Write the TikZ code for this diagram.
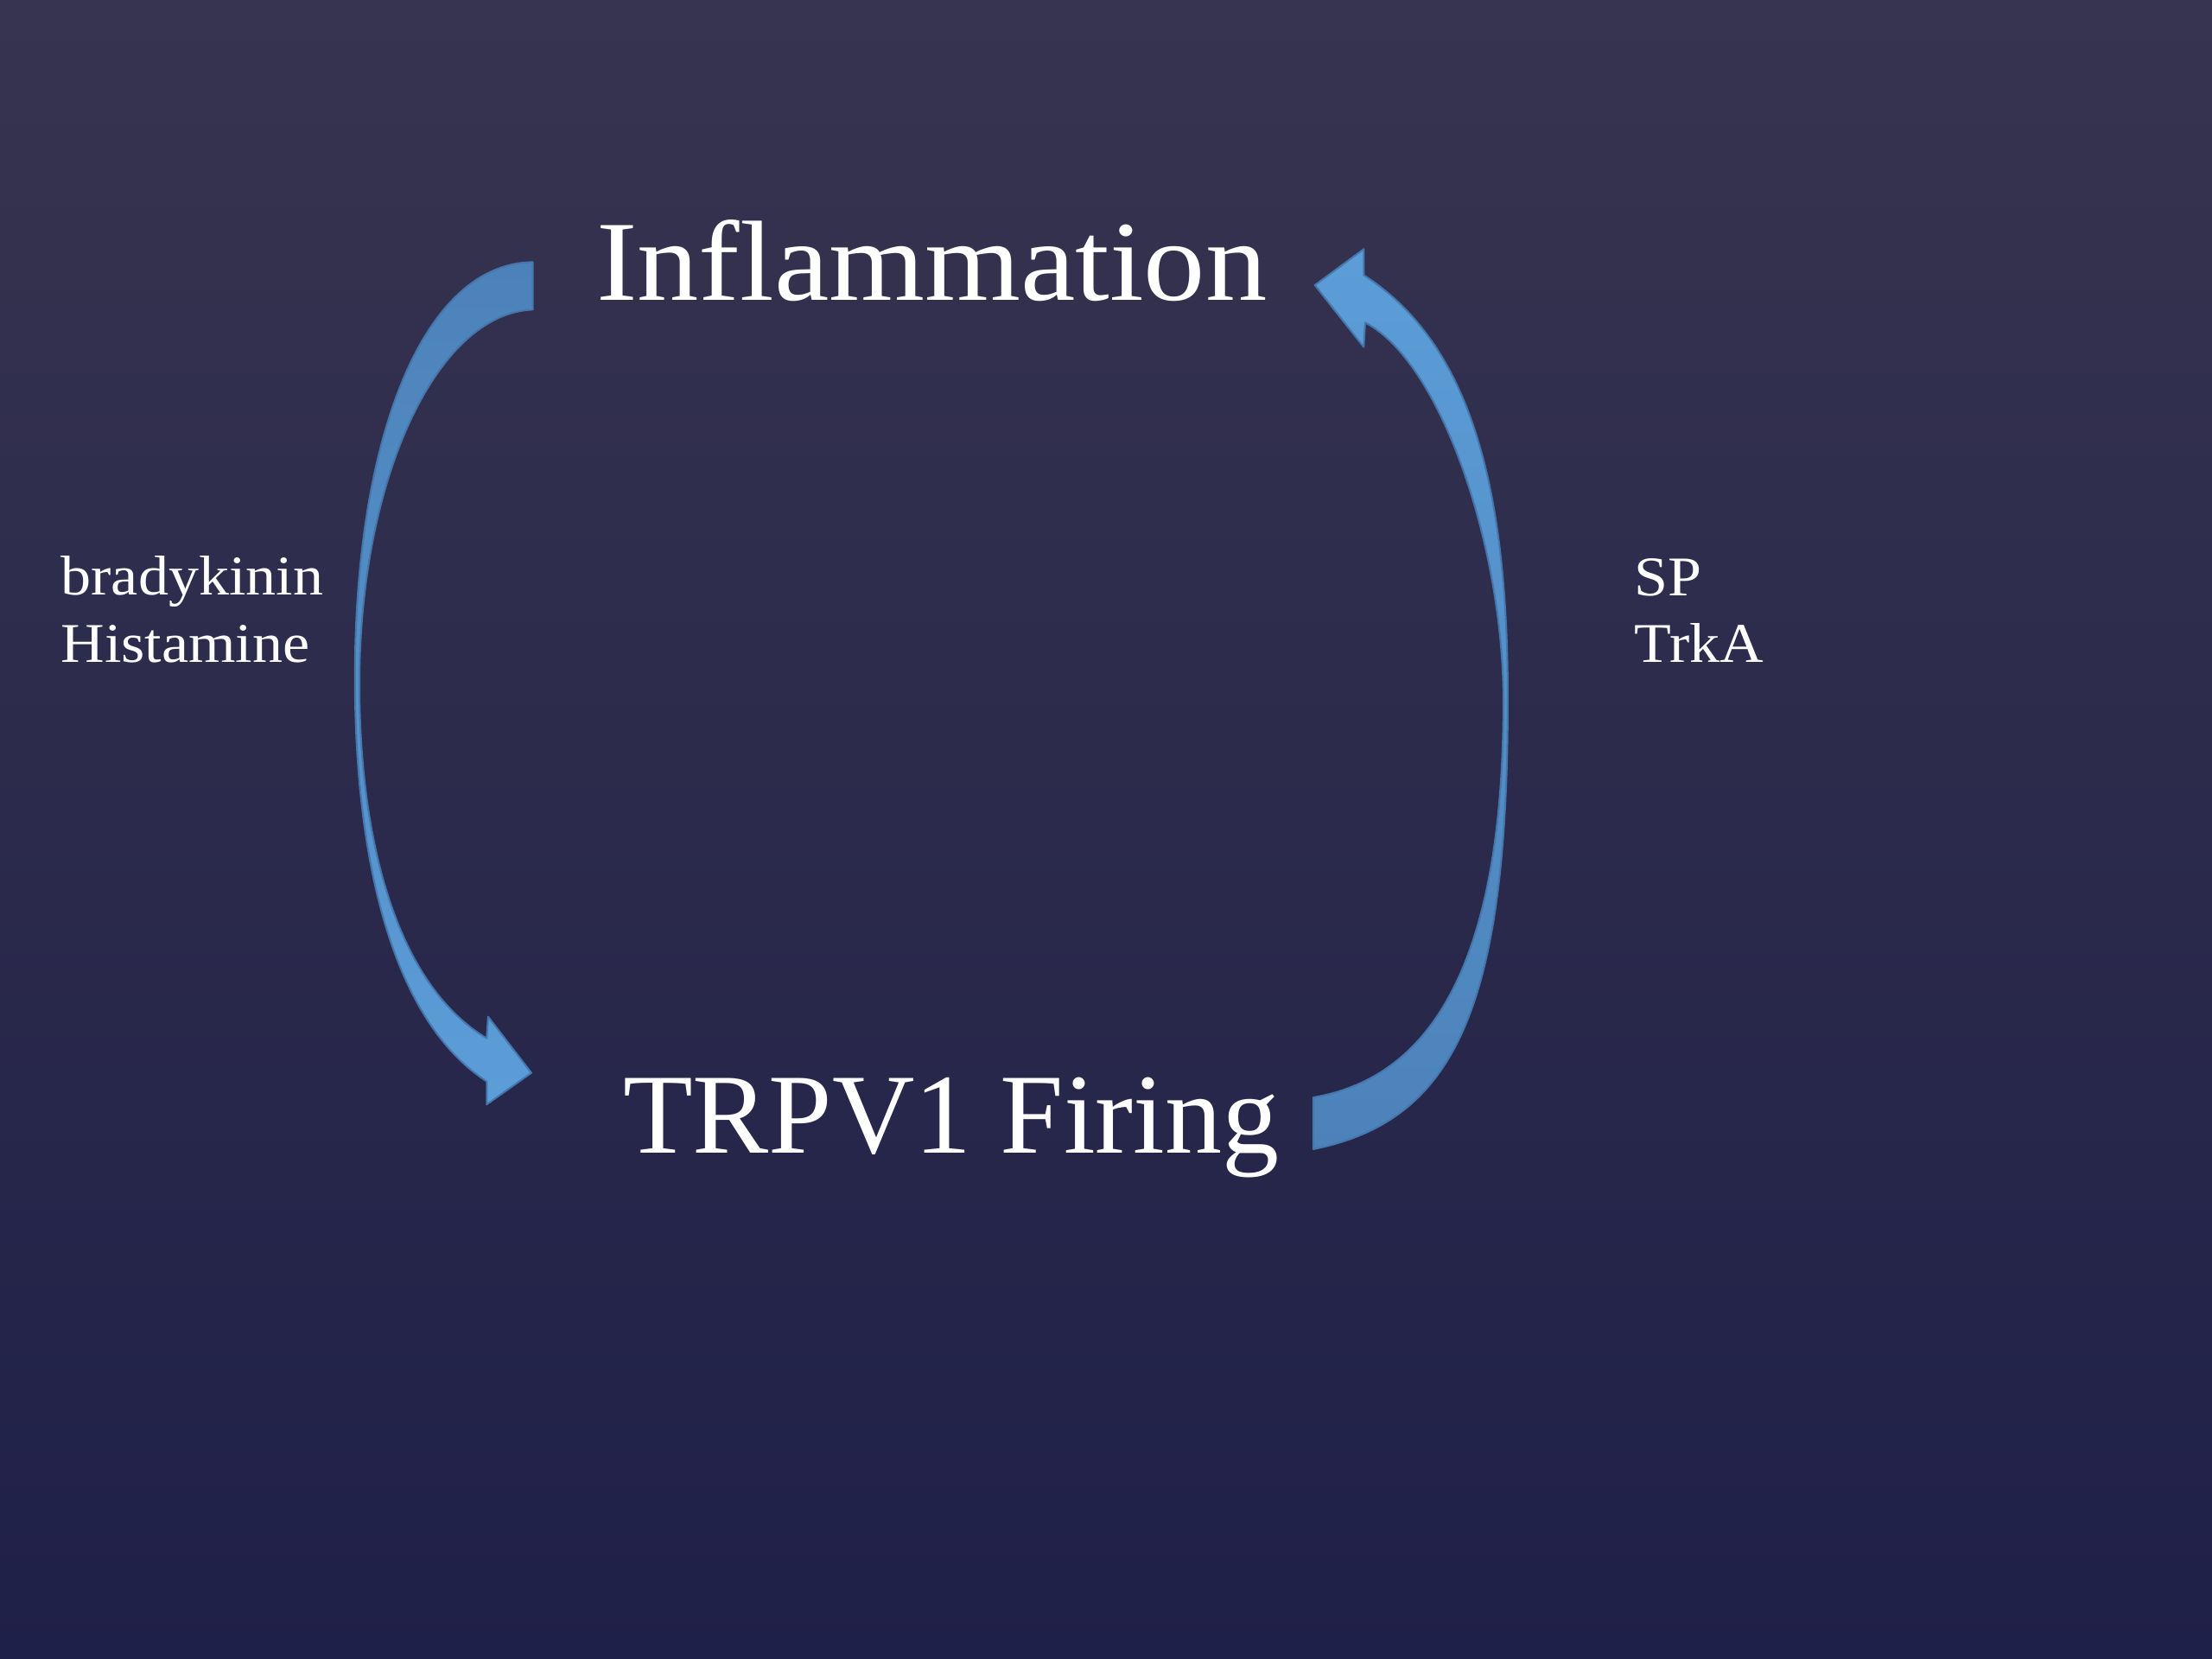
\documentclass[tikz,border=0pt]{standalone}
\usepackage{fontspec}
\setmainfont[FakeStretch=1.08]{Liberation Serif}
\newfontfamily\plainserif{Liberation Serif}
\definecolor{bgtop}{HTML}{37344F}
\definecolor{bgmid}{HTML}{2C2C50}
\definecolor{bgbot}{HTML}{1F2049}
\definecolor{arrlight}{HTML}{5C9DD8}
\definecolor{arrdark}{HTML}{4C82B9}
\definecolor{arredge}{HTML}{4577AD}
\tikzset{
  bigtext/.style={text=white, inner sep=0pt, anchor=base west, font=\fontsize{23}{27}\selectfont},
  smalltext/.style={text=white, inner sep=0pt, anchor=base west, font=\fontsize{11.3}{13.6}\selectfont},
  blockarrow/.style={draw=arredge, line width=0.35pt, line join=round}
}
\begin{document}
\begin{tikzpicture}[x=0.01cm, y=-0.01cm]
  % background
  \shade[top color=bgtop, middle color=bgmid, bottom color=bgbot] (0,0) rectangle (1568,1176);
  \useasboundingbox (0,0) rectangle (1568,1176);

  % texts
  \node[bigtext] (infl) at (422,213) {Inflammation};
  \node[bigtext, font=\plainserif\fontsize{23}{27}\selectfont] (trpv) at (441,817.6) {TRPV1 Firing};
  \node[smalltext] (brady) at (42.5,421.6) {bradykinin};
  \node[smalltext] (hista) at (42.5,469.6) {Histamine};
  \node[smalltext] (sp) at (1158,422.6) {SP};
  \node[smalltext] (trka) at (1158,469.6) {TrkA};

  % left curved arrow: Inflammation -> TRPV1 Firing
  \coordinate (LtailO) at (377.7,185.8);
  \coordinate (LtailI) at (377.7,219.5);
  \coordinate (LmidO)  at (251.6,480);
  \coordinate (LmidI)  at (254.8,485);
  \coordinate (LneckO) at (345,766.6);
  \coordinate (LneckI) at (345,736);
  \coordinate (LbarbO) at (345,782.9);
  \coordinate (LbarbI) at (346,720.7);
  \coordinate (Ltip)   at (376.7,760.5);
  \path[blockarrow, top color=arrdark, bottom color=arrlight]
    (LtailO) .. controls (300,186.5) and (251.6,310) .. (LmidO)
    .. controls (251.6,610) and (278,723) .. (LneckO)
    -- (LbarbO) -- (Ltip) -- (LbarbI) -- (LneckI)
    .. controls (280.7,697.4) and (254.8,595) .. (LmidI)
    .. controls (254.8,338.4) and (310,222) .. (LtailI)
    -- cycle;

  % right curved arrow: TRPV1 Firing -> Inflammation
  \coordinate (RtailO) at (931,814.6);
  \coordinate (RtailI) at (931,777.9);
  \coordinate (RmidO)  at (1068.8,495);
  \coordinate (RmidI)  at (1065.7,497);
  \coordinate (RneckO) at (966.7,195);
  \coordinate (RneckI) at (967.7,228.7);
  \coordinate (RbarbO) at (966.7,176.6);
  \coordinate (RbarbI) at (966.7,246);
  \coordinate (Rtip)   at (932,202.1);
  \path[blockarrow, top color=arrlight, bottom color=arrdark]
    (RtailO) .. controls (1031,794.6) and (1068.8,715) .. (RmidO)
    .. controls (1068.8,345) and (1042.3,243.6) .. (RneckO)
    -- (RbarbO) -- (Rtip) -- (RbarbI) -- (RneckI)
    .. controls (1021.1,256.3) and (1065.7,387) .. (RmidI)
    .. controls (1065.7,697) and (1006,765.1) .. (RtailI)
    -- cycle;
\end{tikzpicture}
\end{document}
